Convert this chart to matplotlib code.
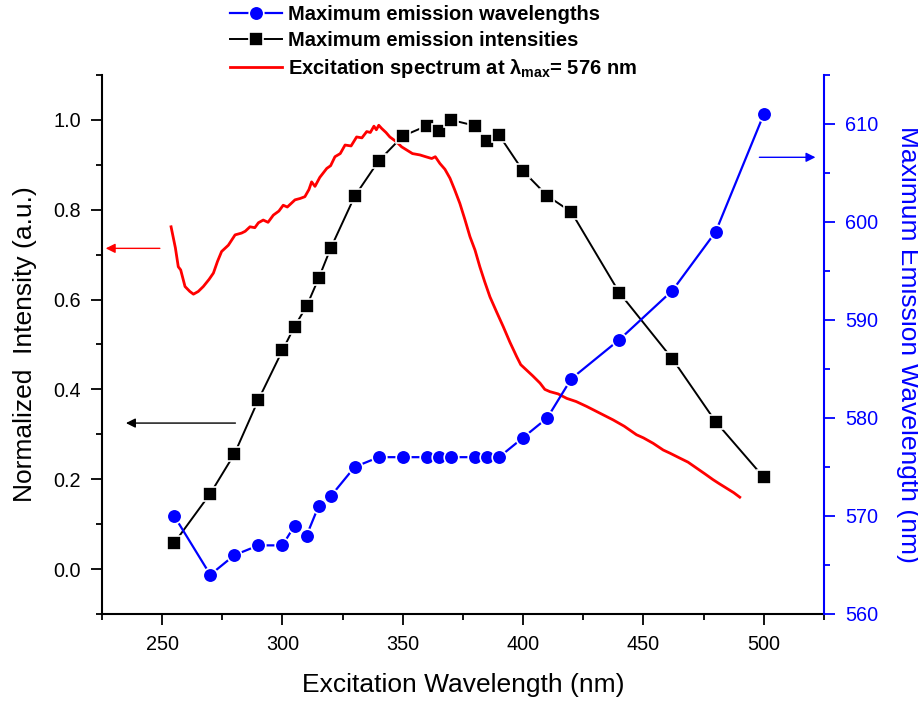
import numpy as np
import matplotlib
matplotlib.use("Agg")
import matplotlib.pyplot as plt
from matplotlib.ticker import MultipleLocator

plt.rcParams['font.family'] = ['Liberation Sans', 'DejaVu Sans']
plt.rcParams['mathtext.default'] = 'regular'

# maximum emission intensities (left axis)
int_x = [255, 270, 280, 290, 300, 305, 310, 315, 320, 330, 340, 350, 360, 365, 370,
         380, 385, 390, 400, 410, 420, 440, 462, 480, 500]
int_y = [0.058, 0.168, 0.256, 0.377, 0.487, 0.54, 0.585, 0.647, 0.714, 0.830, 0.909,
         0.964, 0.987, 0.976, 1.0, 0.987, 0.954, 0.966, 0.886, 0.831, 0.795, 0.615,
         0.468, 0.328, 0.204]

# maximum emission wavelengths (right axis)
wl_x = [255, 270, 280, 290, 300, 305, 310, 315, 320, 330, 340, 350, 360, 365, 370,
        380, 385, 390, 400, 410, 420, 440, 462, 480, 500]
wl_y = [570, 564, 566, 567, 567, 569, 568, 571, 572, 575, 576, 576, 576, 576, 576,
        576, 576, 576, 578, 580, 584, 588, 593, 599, 611]

# excitation spectrum at 576 nm
ex_x = [253.7, 255.5, 256.7, 257.7, 259.5, 261.5, 263.0, 265.0, 267.1, 269.5, 271.3,
        273.0, 274.7, 277.5, 280.3, 283.0, 284.5, 286.5, 288.5, 290.0, 292.0, 294.0,
        296.2, 298.5, 300.3, 302.0, 305.2, 307.3, 309.3, 311.0, 312.1, 313.5, 315.5,
        318.4, 320.0, 321.8, 324.0, 326.0, 328.5, 330.8, 333.0, 335.0, 336.5, 338.0,
        339.0, 340.0, 341.2, 343.0, 344.6, 347.4, 349.5, 351.6, 354.0, 357.1, 359.5,
        362.0, 363.5, 365.4, 367.5, 369.6, 371.5, 373.7, 375.8, 377.9, 380.0, 382.0,
        384.0, 386.2, 389.0, 391.7, 394.5, 397.3, 399.0, 401.4, 404.0, 407.0, 409.0,
        411.1, 414.5, 418.1, 422.0, 426.4, 431.9, 437.4, 442.0, 447.1, 450.0, 454.0,
        458.2, 461.0, 465.1, 468.5, 472.0, 475.5, 478.9, 481.5, 484.5, 487.5, 490.0]
ex_y = [0.762, 0.715, 0.673, 0.666, 0.629, 0.618, 0.612, 0.618, 0.629, 0.645, 0.659,
        0.685, 0.707, 0.721, 0.744, 0.748, 0.752, 0.762, 0.760, 0.771, 0.777, 0.772,
        0.788, 0.797, 0.810, 0.806, 0.822, 0.825, 0.829, 0.845, 0.862, 0.852, 0.872,
        0.892, 0.898, 0.918, 0.925, 0.944, 0.942, 0.962, 0.960, 0.974, 0.972, 0.986,
        0.978, 0.988, 0.981, 0.972, 0.962, 0.951, 0.940, 0.933, 0.925, 0.922, 0.918,
        0.914, 0.918, 0.903, 0.890, 0.870, 0.845, 0.814, 0.778, 0.740, 0.710, 0.673,
        0.640, 0.606, 0.572, 0.540, 0.505, 0.473, 0.455, 0.443, 0.430, 0.414, 0.400,
        0.395, 0.390, 0.380, 0.373, 0.362, 0.347, 0.332, 0.318, 0.299, 0.292, 0.280,
        0.265, 0.258, 0.247, 0.238, 0.225, 0.212, 0.199, 0.190, 0.180, 0.170, 0.160]

fig = plt.figure(figsize=(9.18, 7.02), dpi=100)
ax = fig.add_axes([0.1111, 0.1254, 0.7865, 0.7678])
ax2 = ax.twinx()

l_ex, = ax.plot(ex_x, ex_y, color='red', lw=2.0, zorder=2)
l_int, = ax.plot(int_x, int_y, color='black', lw=1.4, marker='s', ms=9.5,
                 mec='white', mew=1.2, zorder=3)
l_wl, = ax2.plot(wl_x, wl_y, color='blue', lw=1.6, marker='o', ms=10.5,
                 mec='white', mew=1.2, zorder=3)

ax.set_xlim(225, 525)
ax.set_ylim(-0.1, 1.1)
ax2.set_ylim(560, 615)

ax.xaxis.set_major_locator(MultipleLocator(50))
ax.xaxis.set_minor_locator(MultipleLocator(25))
ax.yaxis.set_major_locator(MultipleLocator(0.2))
ax.yaxis.set_minor_locator(MultipleLocator(0.1))
ax2.yaxis.set_major_locator(MultipleLocator(10))
ax2.yaxis.set_minor_locator(MultipleLocator(5))
ax.yaxis.set_major_formatter(matplotlib.ticker.FormatStrFormatter('%.1f'))

for a in (ax, ax2):
    a.spines['top'].set_visible(False)
    for s in a.spines.values():
        s.set_linewidth(1.5)
ax.spines['right'].set_visible(False)
ax2.spines['left'].set_visible(False)
ax2.spines['bottom'].set_visible(False)
ax2.spines['right'].set_color('blue')

ax.tick_params(which='major', direction='out', length=8, width=1.3, labelsize=14.3,
               pad=7)
ax.tick_params(which='minor', direction='out', length=4.5, width=1.3)
ax2.tick_params(which='major', direction='out', length=8, width=1.3, labelsize=14.3,
                colors='blue', pad=7)
ax2.tick_params(which='minor', direction='out', length=4.5, width=1.3, colors='blue')

ax.set_xlabel('Excitation Wavelength (nm)', fontsize=19, labelpad=14)
ax.set_ylabel('Normalized  Intensity (a.u.)', fontsize=19, labelpad=12)
ax2.set_ylabel('Maximum Emission Wavelength (nm)', fontsize=19, color='blue',
               rotation=270, labelpad=30)

# arrows pointing at the matching axis
ax.annotate('', xy=(225.4, 0.714), xytext=(250.2, 0.714),
            arrowprops=dict(arrowstyle='-|>', color='red', lw=1.0, mutation_scale=14))
ax.annotate('', xy=(233.8, 0.325), xytext=(281.6, 0.325),
            arrowprops=dict(arrowstyle='-|>', color='black', lw=1.0, mutation_scale=14))
ax2.annotate('', xy=(522.6, 606.6), xytext=(497.0, 606.6),
             arrowprops=dict(arrowstyle='-|>', color='blue', lw=1.0, mutation_scale=14))

fig.legend([l_wl, l_int, l_ex],
           ['Maximum emission wavelengths', 'Maximum emission intensities',
            r'Excitation spectrum at $\lambda_{max}$= 576 nm'],
           loc='upper left', bbox_to_anchor=(0.236, 1.012), frameon=False,
           prop={'weight': 'bold', 'size': 14.5}, handlelength=2.6,
           handletextpad=0.3, labelspacing=0.36, borderpad=0.15)

fig.savefig('out.png', dpi=100)
